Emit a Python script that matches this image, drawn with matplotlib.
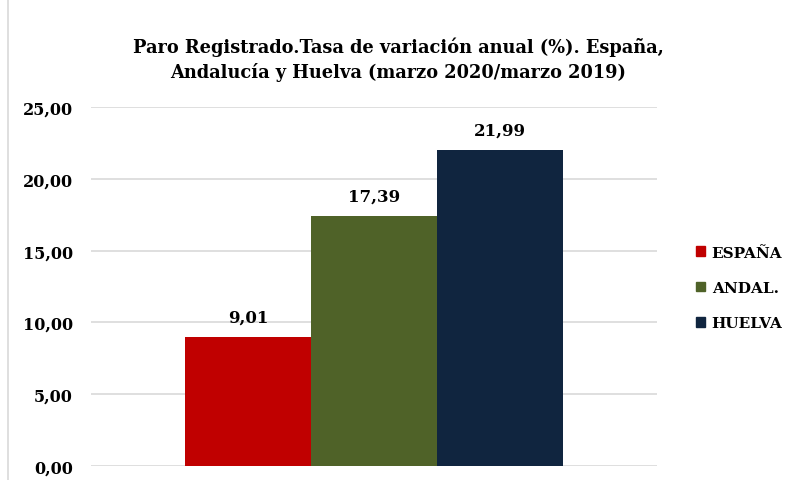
import matplotlib
matplotlib.use("Agg")
import matplotlib.pyplot as plt
from matplotlib.lines import Line2D
from matplotlib.patches import Patch

categories = ["ESPAÑA", "ANDAL.", "HUELVA"]
values = [9.01, 17.39, 21.99]
colors = ["#C00000", "#4F6228", "#10253F"]
yticks = [0, 5, 10, 15, 20, 25]
title = "Paro Registrado.Tasa de variación anual (%). España,\nAndalucía y Huelva (marzo 2020/marzo 2019)"

plt.rcParams['font.family'] = ['DejaVu Serif']
fig = plt.figure(figsize=(7.92, 4.81), dpi=100)
ax = fig.add_axes([91/792, 1-467/481, (657-91)/792, (467-108)/481])

width = 126/566*1.0
xs = [-width, 0, width]
for x, v, c, lab in zip(xs, values, colors, categories):
    ax.bar(x, v, width=width, color=c, label=lab, zorder=3)
    ax.text(x, v + 0.8, f"{v:.2f}".replace(".", ","), ha="center", va="bottom",
            fontsize=12, fontweight="bold")

half = 566/126*width/2
ax.set_xlim(-half, half)
ax.set_ylim(0, 25)
ax.set_yticks(yticks)
ax.set_yticklabels([f"{t:.2f}".replace(".", ",") for t in yticks], fontsize=11.5, fontweight="bold")
ax.set_xticks([])
ax.tick_params(axis="y", length=0, pad=13)
ax.grid(axis="y", color="#D9D9D9", linewidth=1.2, zorder=0)
for s in ax.spines.values():
    s.set_visible(False)

fig.text(398/792, 1-60/481, title, ha="center", va="center", fontsize=12.8,
         fontweight="bold", linespacing=1.4)

handles = [Patch(facecolor=c, edgecolor=c) for c in colors]
fig.legend(handles, categories, loc="center left", bbox_to_anchor=(682/792, 1-289/481),
           frameon=False, prop={"weight": "bold", "size": 11}, handlelength=0.6,
           handleheight=0.6, handletextpad=0.45, labelspacing=1.4)

fig.add_artist(Line2D([8/792, 8/792], [0, 1], color="#D9D9D9", linewidth=1.2,
                      transform=fig.transFigure))

fig.savefig("out.png", dpi=100)
